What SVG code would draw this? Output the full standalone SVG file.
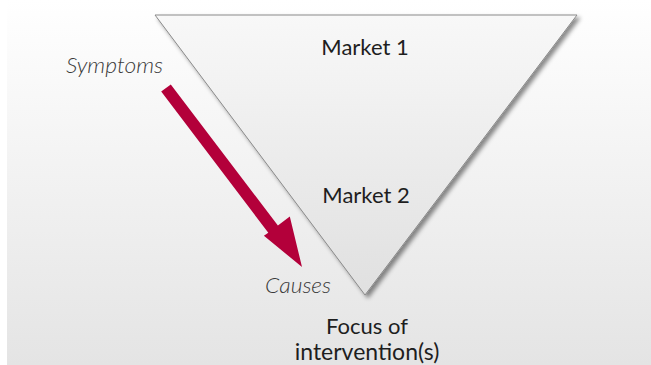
<svg xmlns="http://www.w3.org/2000/svg" width="651" height="365" viewBox="0 0 651 365">
<defs>
<linearGradient id="bg" x1="0" y1="0" x2="0" y2="1">
<stop offset="0" stop-color="#ffffff"/>
<stop offset="1" stop-color="#e4e4e4"/>
</linearGradient>
<linearGradient id="tri" x1="0" y1="0" x2="0" y2="1">
<stop offset="0" stop-color="#f8f8f8"/>
<stop offset="1" stop-color="#e0e0e0"/>
</linearGradient>
<filter id="sh" x="-10%" y="-10%" width="125%" height="125%">
<feDropShadow dx="3" dy="3" stdDeviation="2" flood-color="#000" flood-opacity="0.45"/>
</filter>
<style>
.lbl{font-family:Lato,"Open Sans",sans-serif;font-size:22px;fill:#1e1e1e;text-anchor:middle}
.it{font-family:Lato,"Open Sans",sans-serif;font-size:22px;font-style:italic;font-weight:300;fill:#3a3a3a}
</style>
</defs>
<rect x="0" y="0" width="651" height="365" fill="#ffffff"/>
<rect x="7" y="0" width="644" height="365" fill="url(#bg)"/>
<g id="funnel">
<polygon points="155,15 577,15 365,295" fill="url(#tri)" stroke="#8a8a8a" stroke-width="1" filter="url(#sh)"/>
<text class="lbl" x="365" y="55">Market 1</text>
<text class="lbl" x="366" y="203">Market 2</text>
</g>
<g id="connectors">
<polygon points="161.2,91.6 170.8,84.4 277.9,225.6 289.8,216.6 302,267 263.9,235.8 268.3,232.8" fill="#b3003a"/>
</g>
<g id="symptoms"><text class="it" x="66" y="73" textLength="97" lengthAdjust="spacingAndGlyphs">Symptoms</text></g>
<g id="causes"><text class="it" x="265" y="293" textLength="66" lengthAdjust="spacingAndGlyphs">Causes</text></g>
<g id="focus">
<text class="lbl" x="367" y="334">Focus of</text>
<text class="lbl" x="367" y="360" style="font-size:23px">intervention(s)</text>
</g>
</svg>
